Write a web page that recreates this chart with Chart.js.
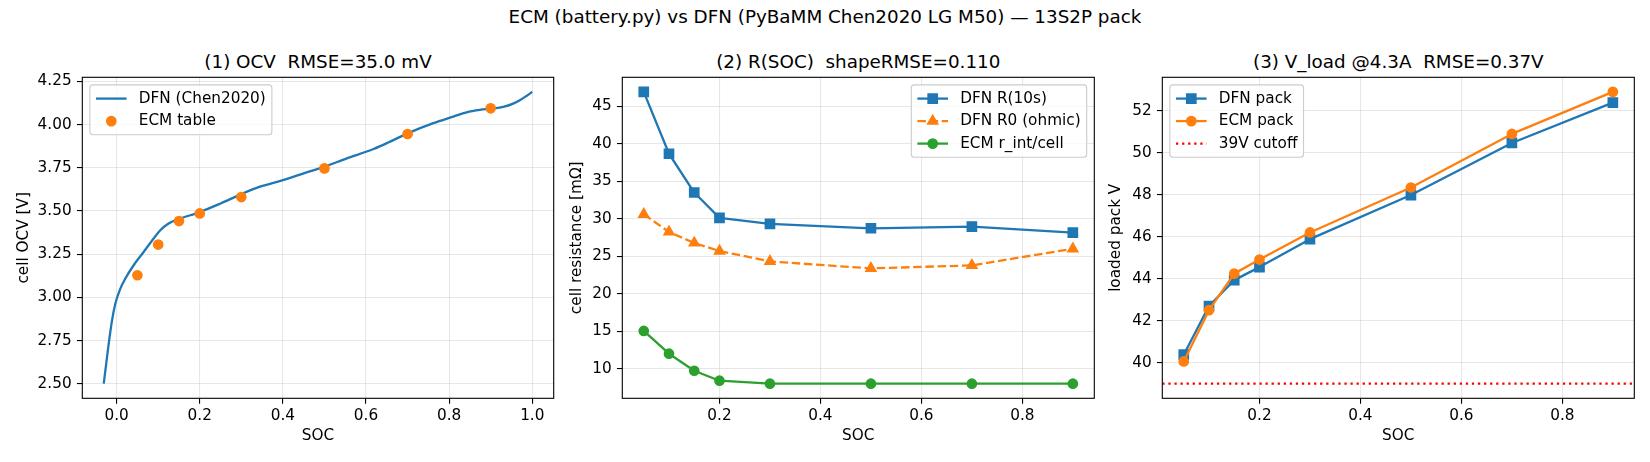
<!DOCTYPE html>
<html>
<head>
<meta charset="utf-8">
<title>ECM vs DFN</title>
<script src="https://cdn.jsdelivr.net/npm/chart.js@4"></script>
<style>
  body { margin: 0; background: #fff; }
  #fig { position: relative; width: 1650px; height: 462px; overflow: hidden; font-family: "DejaVu Sans", sans-serif; }
  #fig canvas { position: absolute; left: 0; top: 0; }
  .title { position: absolute; font-size: 18.33px; line-height: 1; white-space: pre; transform: translateX(-50%); color: #000; }
</style>
</head>
<body>
<div id="fig">
  <div class="title" style="left:825px;top:7.5px">ECM (battery.py) vs DFN (PyBaMM Chen2020 LG M50) — 13S2P pack</div>
  <div class="title" style="left:318px;top:52.6px">(1) OCV  RMSE=35.0 mV</div>
  <div class="title" style="left:858.3px;top:52.6px">(2) R(SOC)  shapeRMSE=0.110</div>
  <div class="title" style="left:1398.3px;top:52.6px">(3) V_load @4.3A  RMSE=0.37V</div>
  <canvas id="ocvChart" width="1650" height="462"></canvas>
  <canvas id="resChart" width="1650" height="462"></canvas>
  <canvas id="packChart" width="1650" height="462"></canvas>
</div>
<script>
// SOC points of the ECM lookup table
const socTable = [0.05, 0.1, 0.15, 0.2, 0.3, 0.5, 0.7, 0.9];

// (1) DFN OCV curve and ECM table OCV [V]
const ocvSoc = [-0.031, -0.025, -0.019, -0.011, -0.003, 0.009, 0.021, 0.041, 0.065, 0.089, 0.105, 0.125, 0.149,
  0.2, 0.25, 0.3, 0.345, 0.4, 0.45, 0.5, 0.554, 0.618, 0.658, 0.7, 0.762, 0.81, 0.842, 0.874, 0.902, 0.93,
  0.954, 0.97, 0.985, 1.0];
const ocvDfn = [2.5, 2.616, 2.732, 2.867, 2.964, 3.051, 3.109, 3.186, 3.263, 3.341, 3.389, 3.428, 3.453,
  3.494, 3.544, 3.598, 3.641, 3.679, 3.718, 3.757, 3.805, 3.859, 3.902, 3.95, 4.009, 4.047, 4.072, 4.086,
  4.093, 4.103, 4.122, 4.142, 4.165, 4.19];
const ocvEcm = [3.128, 3.306, 3.442, 3.486, 3.581, 3.747, 3.946, 4.095];

// (2) cell resistance [mOhm]
const rDfn10s = [46.92, 38.67, 33.5, 30.11, 29.31, 28.73, 28.95, 28.15];
const rDfnOhmic = [30.6, 28.24, 26.77, 25.7, 24.31, 23.38, 23.78, 26.0];
const rEcm = [15.04, 12.0, 9.73, 8.4, 8.0, 8.0, 8.0, 8.0];

// (3) loaded pack voltage [V]
const vDfnPack = [40.38, 42.7, 43.93, 44.55, 45.88, 47.98, 50.46, 52.38];
const vEcmPack = [40.06, 42.5, 44.24, 44.91, 46.2, 48.34, 50.89, 52.89];
const cutoffV = 39;

// Tick labels
const ocvXTicks = [0.0, 0.2, 0.4, 0.6, 0.8, 1.0];
const ocvYTicks = [2.5, 2.75, 3.0, 3.25, 3.5, 3.75, 4.0, 4.25];
const socXTicks = [0.2, 0.4, 0.6, 0.8];
const resYTicks = [10, 15, 20, 25, 30, 35, 40, 45];
const packYTicks = [40, 42, 44, 46, 48, 50, 52];

// 10pt at 110 dpi
const FS = 15.28;
const AREA_TOP = 77.3;
const AREA_BOTTOM = 398.3;
const BLUE = "#1f77b4", ORANGE = "#ff7f0e", GREEN = "#2ca02c";

Chart.defaults.font.family = "DejaVu Sans";
Chart.defaults.font.size = FS;
Chart.defaults.color = "#000";

// matplotlib style autoscale: 5% margin around data
function axisRange(values) {
  const lo = Math.min(...values);
  const hi = Math.max(...values);
  const pad = (hi - lo) * 0.05;
  return [lo - pad, hi + pad];
}

function points(xs, ys) {
  return xs.map((x, i) => ({ x: x, y: ys[i] }));
}

// Draw the marker the same way chart.js does (for the legend)
function drawMarker(ctx, style, r, x, y) {
  ctx.beginPath();
  if (style === "rect") {
    const s = r * Math.SQRT2;
    ctx.rect(x - s / 2, y - s / 2, s, s);
  } else if (style === "triangle") {
    ctx.moveTo(x, y - r);
    ctx.lineTo(x + 0.866 * r, y + 0.5 * r);
    ctx.lineTo(x - 0.866 * r, y + 0.5 * r);
    ctx.closePath();
  } else {
    ctx.arc(x, y, r, 0, Math.PI * 2);
  }
  ctx.fill();
  ctx.stroke();
}

// Black box round the axes (spines)
const frame = {
  id: "frame",
  afterDatasetsDraw(chart) {
    const { ctx, chartArea: a } = chart;
    ctx.save();
    ctx.strokeStyle = "#000";
    ctx.lineWidth = 1.1;
    ctx.strokeRect(a.left, a.top, a.right - a.left, a.bottom - a.top);
    ctx.restore();
  },
};

// Legend inside the axes, like matplotlib
const mplLegend = {
  id: "mplLegend",
  afterDraw(chart, args, opts) {
    const { ctx, chartArea: a } = chart;
    const items = chart.data.datasets;
    ctx.save();
    ctx.font = FS + 'px "DejaVu Sans"';
    const tw = Math.max(...items.map((d) => ctx.measureText(d.label).width));
    const w = 48.9 + tw + 6.1;
    const h = 27.4 + (items.length - 1) * 22.5;
    const x0 = opts.loc === "upper right" ? a.right - 7.6 - w : a.left + 7.6;
    const y0 = a.top + 7.6;

    ctx.beginPath();
    ctx.roundRect(x0, y0, w, h, 3);
    ctx.fillStyle = "rgba(255,255,255,0.8)";
    ctx.fill();
    ctx.strokeStyle = "#cccccc";
    ctx.lineWidth = 1.1;
    ctx.stroke();

    items.forEach((d, i) => {
      const cy = y0 + 13.7 + i * 22.5;
      const hx = x0 + 6.1;
      if (d.showLine !== false) {
        ctx.setLineDash(d.borderDash || []);
        ctx.lineWidth = d.borderWidth;
        ctx.strokeStyle = d.borderColor;
        ctx.beginPath();
        ctx.moveTo(hx, cy);
        ctx.lineTo(hx + 30.6, cy);
        ctx.stroke();
      }
      if (d.pointRadius > 0) {
        ctx.setLineDash([]);
        ctx.fillStyle = d.pointBackgroundColor;
        ctx.strokeStyle = d.pointBorderColor;
        ctx.lineWidth = d.pointBorderWidth;
        drawMarker(ctx, d.pointStyle, d.pointRadius, hx + 15.3, cy);
      }
      ctx.fillStyle = "#000";
      ctx.textBaseline = "middle";
      ctx.fillText(d.label, x0 + 48.9, cy);
    });
    ctx.restore();
  },
};

function series(label, data, color, extra) {
  return Object.assign({
    label: label,
    data: data,
    borderColor: color,
    backgroundColor: color,
    pointBackgroundColor: color,
    pointBorderColor: color,
    borderWidth: 2.3,
    pointBorderWidth: 1.5,
    borderJoinStyle: "round",
    pointRadius: 0,
    tension: 0,
  }, extra);
}

const gridStyle = {
  color: "rgba(176,176,176,0.3)",
  lineWidth: 1.1,
  drawTicks: true,
  tickLength: 5.35,
  tickColor: "#000",
  tickWidth: 1.1,
};

function makeChart(id, panel) {
  const ctx = document.getElementById(id).getContext("2d");
  // later datasets on top, as in matplotlib
  panel.datasets.forEach((d, i) => { d.order = -i; });
  return new Chart(ctx, {
    type: "line",
    data: { datasets: panel.datasets },
    options: {
      responsive: false,
      animation: false,
      events: [],
      layout: { padding: { left: panel.canvasLeft, right: 1650 - panel.right, top: AREA_TOP, bottom: 0 } },
      plugins: {
        legend: { display: false },
        tooltip: { enabled: false },
        mplLegend: { loc: panel.legendLoc },
      },
      scales: {
        x: {
          type: "linear",
          bounds: "data",
          min: panel.xRange[0],
          max: panel.xRange[1],
          afterBuildTicks: (s) => { s.ticks = panel.xTicks.map((v) => ({ value: v })); },
          afterFit: (s) => { s.height = 462 - AREA_BOTTOM; },
          ticks: { padding: 3.5, maxRotation: 0, callback: (v) => Number(v).toFixed(1) },
          grid: gridStyle,
          border: { display: false },
          title: { display: true, text: "SOC", font: { size: FS }, padding: { top: 0, bottom: 16.5 } },
        },
        y: {
          type: "linear",
          bounds: "data",
          min: panel.yRange[0],
          max: panel.yRange[1],
          afterBuildTicks: (s) => { s.ticks = panel.yTicks.map((v) => ({ value: v })); },
          afterFit: (s) => { s.width = panel.left - panel.canvasLeft; },
          ticks: { padding: 5.35, callback: (v) => Number(v).toFixed(panel.yDecimals) },
          grid: gridStyle,
          border: { display: false },
          title: { display: true, text: panel.yLabel, font: { size: FS }, padding: { top: 0, bottom: 0 } },
        },
      },
    },
    plugins: [frame, mplLegend],
  });
}

// (1) OCV
const ocvX = axisRange(ocvSoc);
makeChart("ocvChart", {
  canvasLeft: 14.8, left: 82.3, right: 553.7,
  xRange: ocvX,
  yRange: axisRange(ocvDfn.concat(ocvEcm)),
  xTicks: ocvXTicks, yTicks: ocvYTicks, yDecimals: 2,
  yLabel: "cell OCV [V]",
  legendLoc: "upper left",
  datasets: [
    series("DFN (Chen2020)", points(ocvSoc, ocvDfn), BLUE, { cubicInterpolationMode: "monotone" }),
    series("ECM table", points(socTable, ocvEcm), ORANGE, { showLine: false, pointStyle: "circle", pointRadius: 4.6 }),
  ],
});

// (2) R(SOC)
makeChart("resChart", {
  canvasLeft: 567.5, left: 622.3, right: 1094.3,
  xRange: axisRange(socTable),
  yRange: axisRange(rDfn10s.concat(rDfnOhmic, rEcm)),
  xTicks: socXTicks, yTicks: resYTicks, yDecimals: 0,
  yLabel: "cell resistance [mΩ]",
  legendLoc: "upper right",
  datasets: [
    series("DFN R(10s)", points(socTable, rDfn10s), BLUE, { pointStyle: "rect", pointRadius: 6.5 }),
    series("DFN R0 (ohmic)", points(socTable, rDfnOhmic), ORANGE, { pointStyle: "triangle", pointRadius: 5.8, borderDash: [8.5, 3.67] }),
    series("ECM r_int/cell", points(socTable, rEcm), GREEN, { pointStyle: "circle", pointRadius: 4.6 }),
  ],
});

// (3) loaded pack voltage
const packX = axisRange(socTable);
makeChart("packChart", {
  canvasLeft: 1107, left: 1162.3, right: 1634.3,
  xRange: packX,
  yRange: axisRange(vDfnPack.concat(vEcmPack, [cutoffV])),
  xTicks: socXTicks, yTicks: packYTicks, yDecimals: 0,
  yLabel: "loaded pack V",
  legendLoc: "upper left",
  datasets: [
    series("DFN pack", points(socTable, vDfnPack), BLUE, { pointStyle: "rect", pointRadius: 6.5 }),
    series("ECM pack", points(socTable, vEcmPack), ORANGE, { pointStyle: "circle", pointRadius: 4.6 }),
    series("39V cutoff", points(packX, [cutoffV, cutoffV]), "#ff0000", { borderDash: [2.29, 3.78] }),
  ],
});
</script>
</body>
</html>
